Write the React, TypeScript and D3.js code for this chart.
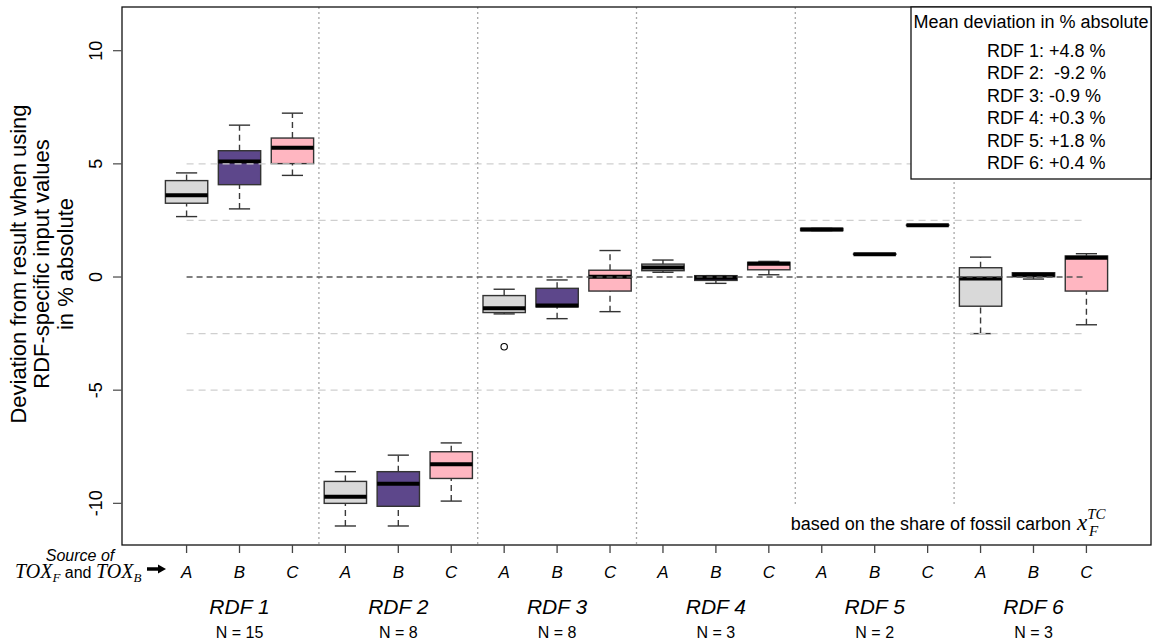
import { useEffect, useRef } from 'react'
import { select, scaleLinear } from 'd3'

const groups = ['RDF 1', 'RDF 2', 'RDF 3', 'RDF 4', 'RDF 5', 'RDF 6']
const groupN = [15, 8, 8, 3, 2, 3]
const sources = ['A', 'B', 'C']

// [lower whisker, Q1, median, Q3, upper whisker] for each RDF
const sourceA = [
  [2.67, 3.26, 3.61, 4.26, 4.6],
  [-11.0, -10.0, -9.71, -9.03, -8.6],
  [-1.63, -1.57, -1.38, -0.82, -0.54],
  [0.21, 0.28, 0.42, 0.57, 0.75],
  [2.05, 2.05, 2.1, 2.15, 2.15],
  [-2.5, -1.29, -0.07, 0.41, 0.88],
]
const sourceB = [
  [3.01, 4.08, 5.1, 5.58, 6.71],
  [-11.0, -10.13, -9.13, -8.6, -7.87],
  [-1.84, -1.32, -1.26, -0.5, -0.13],
  [-0.28, -0.15, -0.03, 0.06, 0.06],
  [1.0, 1.0, 1.01, 1.02, 1.02],
  [-0.09, 0.01, 0.1, 0.19, 0.19],
]
const sourceC = [
  [4.49, 5.01, 5.71, 6.14, 7.24],
  [-9.9, -8.9, -8.27, -7.72, -7.33],
  [-1.53, -0.62, 0.01, 0.3, 1.17],
  [0.1, 0.32, 0.59, 0.65, 0.69],
  [2.28, 2.28, 2.29, 2.3, 2.3],
  [-2.11, -0.62, 0.85, 0.93, 1.03],
]
const outliers = [{ group: 2, source: 0, value: -3.08 }]
const meanDeviation = ['+4.8', ' -9.2', '-0.9', '+0.3', '+1.8', '+0.4']
const yTicks = [-10, -5, 0, 5, 10]
const gridValues = [-5, -2.5, 2.5, 5]

const sourceColors = ['#d9d9d9', '#5d478b', '#ffb6c1']
const sans = "'Liberation Sans', Arial, sans-serif"
const serif = "'Liberation Serif', 'Times New Roman', serif"

const App = () => {
  const svgRef = useRef(null)

  useEffect(() => {
    const svg = select(svgRef.current)
    svg.selectAll('*').remove()

    const left = 122, right = 1151, top = 7, bottom = 545
    const x = scaleLinear().domain([-0.22, 19.22]).range([left, right])
    const y = scaleLinear().domain([-11.84, 11.93]).range([bottom, top])
    const boxHalf = (x(0.8) - x(0)) / 2
    const capHalf = boxHalf / 2
    const series = [sourceA, sourceB, sourceC]
    const positions = groups.flatMap((g, gi) => sources.map((s, si) => gi * 3 + si + 1))

    const boxes = groups.flatMap((g, gi) =>
      series.map((s, si) => ({ pos: gi * 3 + si + 1, color: sourceColors[si], st: s[gi] }))
    )

    const bx = svg.append('g')
    // whiskers
    bx.selectAll('.whisker')
      .data(boxes.flatMap(b => [[b.pos, b.st[0], b.st[1]], [b.pos, b.st[3], b.st[4]]]))
      .join('line')
      .attr('x1', d => x(d[0])).attr('x2', d => x(d[0]))
      .attr('y1', d => y(d[1])).attr('y2', d => y(d[2]))
      .attr('stroke', '#3a3a3a').attr('stroke-width', 1.4).attr('stroke-dasharray', '6,4')
    bx.selectAll('.cap')
      .data(boxes.flatMap(b => [[b.pos, b.st[0]], [b.pos, b.st[4]]]))
      .join('line')
      .attr('x1', d => x(d[0]) - capHalf).attr('x2', d => x(d[0]) + capHalf)
      .attr('y1', d => y(d[1])).attr('y2', d => y(d[1]))
      .attr('stroke', '#333').attr('stroke-width', 1.4)
    bx.selectAll('.box')
      .data(boxes)
      .join('rect')
      .attr('x', d => x(d.pos) - boxHalf)
      .attr('width', boxHalf * 2)
      .attr('y', d => y(d.st[3]))
      .attr('height', d => y(d.st[1]) - y(d.st[3]))
      .attr('fill', d => d.color)
      .attr('stroke', '#333').attr('stroke-width', 1.4)
    bx.selectAll('.median')
      .data(boxes)
      .join('line')
      .attr('x1', d => x(d.pos) - boxHalf).attr('x2', d => x(d.pos) + boxHalf)
      .attr('y1', d => y(d.st[2])).attr('y2', d => y(d.st[2]))
      .attr('stroke', '#000').attr('stroke-width', 4)
    bx.selectAll('.outlier')
      .data(outliers)
      .join('circle')
      .attr('cx', d => x(d.group * 3 + d.source + 1))
      .attr('cy', d => y(d.value))
      .attr('r', 3.2)
      .attr('fill', 'none').attr('stroke', '#000').attr('stroke-width', 1.1)

    // grid + separators drawn over boxes
    svg.append('g').selectAll('line')
      .data(gridValues)
      .join('line')
      .attr('x1', x(1)).attr('x2', x(18))
      .attr('y1', d => y(d)).attr('y2', d => y(d))
      .attr('stroke', '#cfcfcf').attr('stroke-width', 1.2).attr('stroke-dasharray', '7,5')
    svg.append('g').selectAll('line')
      .data([3.5, 6.5, 9.5, 12.5, 15.5])
      .join('line')
      .attr('x1', d => x(d)).attr('x2', d => x(d))
      .attr('y1', top).attr('y2', bottom)
      .attr('stroke', '#a8a8a8').attr('stroke-width', 1.3).attr('stroke-dasharray', '2,3')
    svg.append('line')
      .attr('x1', x(1)).attr('x2', x(18))
      .attr('y1', y(0)).attr('y2', y(0))
      .attr('stroke', '#555').attr('stroke-width', 1.5).attr('stroke-dasharray', '6,4')

    // frame
    svg.append('rect')
      .attr('x', left).attr('y', top).attr('width', right - left).attr('height', bottom - top)
      .attr('fill', 'none').attr('stroke', '#111').attr('stroke-width', 1.3)

    // y axis
    svg.append('g').selectAll('line')
      .data(yTicks)
      .join('line')
      .attr('x1', left - 9).attr('x2', left)
      .attr('y1', d => y(d)).attr('y2', d => y(d))
      .attr('stroke', '#555').attr('stroke-width', 1.3)
    svg.append('g').selectAll('text')
      .data(yTicks)
      .join('text')
      .attr('transform', d => `translate(96,${y(d)}) rotate(-90)`)
      .attr('text-anchor', 'middle').attr('dy', '0.35em')
      .attr('font-family', sans).attr('font-size', 18)
      .text(d => d)

    const yTitle = ['Deviation from result when using', 'RDF-specific input values', 'in % absolute']
    svg.append('g').selectAll('text')
      .data(yTitle)
      .join('text')
      .attr('transform', (d, i) => `translate(${18 + i * 23.5},264) rotate(-90)`)
      .attr('text-anchor', 'middle').attr('dy', '0.35em')
      .attr('font-family', sans).attr('font-size', 22)
      .text(d => d)

    // x axis
    svg.append('g').selectAll('line')
      .data(positions)
      .join('line')
      .attr('x1', d => x(d)).attr('x2', d => x(d))
      .attr('y1', bottom).attr('y2', bottom + 8)
      .attr('stroke', '#444').attr('stroke-width', 1.3)
    svg.append('g').selectAll('text')
      .data(positions)
      .join('text')
      .attr('x', d => x(d)).attr('y', 578)
      .attr('text-anchor', 'middle')
      .attr('font-family', sans).attr('font-size', 17).attr('font-style', 'italic')
      .text((d, i) => sources[i % 3])
    svg.append('g').selectAll('text')
      .data(groups)
      .join('text')
      .attr('x', (d, i) => x(i * 3 + 2)).attr('y', 614)
      .attr('text-anchor', 'middle')
      .attr('font-family', sans).attr('font-size', 21).attr('font-style', 'italic')
      .text(d => d)
    svg.append('g').selectAll('text')
      .data(groupN)
      .join('text')
      .attr('x', (d, i) => x(i * 3 + 2)).attr('y', 638)
      .attr('text-anchor', 'middle')
      .attr('font-family', sans).attr('font-size', 16)
      .text(d => `N = ${d}`)

    // source label + arrow
    svg.append('text')
      .attr('x', 80).attr('y', 561).attr('text-anchor', 'middle')
      .attr('font-family', sans).attr('font-size', 16).attr('font-style', 'italic')
      .text('Source of')
    const src = svg.append('text').attr('x', 15).attr('y', 578).style('white-space', 'pre')
    src.append('tspan').attr('font-family', serif).attr('font-style', 'italic').attr('font-size', 20).text('TOX')
    src.append('tspan').attr('font-family', serif).attr('font-style', 'italic').attr('font-size', 13).attr('dy', 4).text('F')
    src.append('tspan').attr('font-family', sans).attr('font-size', 16).attr('dy', -4).text(' and ')
    src.append('tspan').attr('font-family', serif).attr('font-style', 'italic').attr('font-size', 20).text('TOX')
    src.append('tspan').attr('font-family', serif).attr('font-style', 'italic').attr('font-size', 13).attr('dy', 4).text('B')
    svg.append('line')
      .attr('x1', 147).attr('x2', 159).attr('y1', 569).attr('y2', 569)
      .attr('stroke', '#000').attr('stroke-width', 3.5)
    svg.append('path')
      .attr('d', 'M158,564.5 L166,569 L158,573.5 Z')
      .attr('fill', '#000')

    // legend
    svg.append('rect')
      .attr('x', 911).attr('y', top).attr('width', right - 911).attr('height', 172)
      .attr('fill', '#fff').attr('stroke', '#111').attr('stroke-width', 1.3)
    svg.append('text')
      .attr('x', 1031).attr('y', 28).attr('text-anchor', 'middle')
      .attr('font-family', sans).attr('font-size', 18)
      .text('Mean deviation in % absolute')
    svg.append('g').selectAll('text')
      .data(meanDeviation)
      .join('text')
      .attr('x', 987).attr('y', (d, i) => 56.5 + i * 22.5)
      .attr('font-family', sans).attr('font-size', 18)
      .style('white-space', 'pre')
      .text((d, i) => `${groups[i]}: ${d} %`)

    // note at bottom right
    svg.append('rect')
      .attr('x', 784).attr('y', 507).attr('width', right - 785).attr('height', bottom - 508)
      .attr('fill', '#fff')
    svg.append('text')
      .attr('x', 1071).attr('y', 530).attr('text-anchor', 'end')
      .attr('font-family', sans).attr('font-size', 18)
      .text('based on the share of fossil carbon')
    const note = svg.append('text').attr('x', 1077).attr('y', 530)
    note.append('tspan').attr('font-family', serif).attr('font-style', 'italic').attr('font-size', 23).text('x')
    note.append('tspan').attr('font-family', serif).attr('font-style', 'italic').attr('font-size', 15).attr('dy', -11).text('TC')
    note.append('tspan').attr('font-family', serif).attr('font-style', 'italic').attr('font-size', 15).attr('x', 1089).attr('dy', 17).text('F')
  }, [])

  return (
    <svg ref={svgRef} width={1157} height={642}
      style={{ position: 'absolute', left: 0, top: 0, background: '#fff' }} />
  )
}

export default App
